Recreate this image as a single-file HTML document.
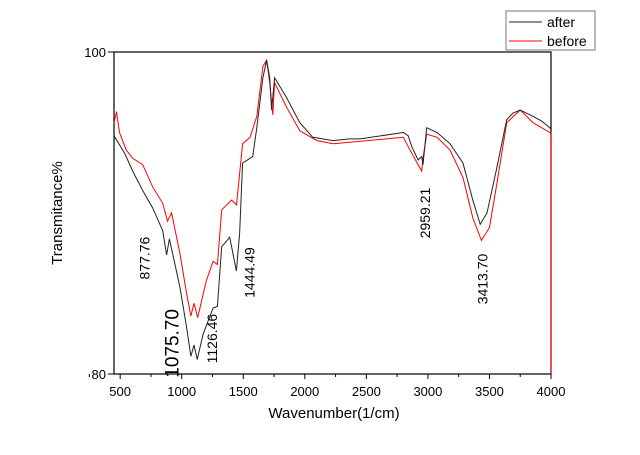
<!DOCTYPE html>
<html><head><meta charset="utf-8"><style>
body{margin:0;background:#fff;}
svg text{font-family:"Liberation Sans",Arial,sans-serif;}
</style></head><body>
<svg id="chart" width="640" height="450" viewBox="0 0 640 450" xmlns="http://www.w3.org/2000/svg">
</svg>
<script>
const afterX=[450,537,602,683,765,846,877,900,985,1040,1075,1100,1126,1175,1255,1290,1325,1390,1444,1470,1495,1577,1610,1660,1690,1715,1730,1755,1850,1960,2065,2230,2365,2450,2800,2840,2870,2920,2950,2960,2990,3075,3180,3285,3365,3425,3480,3560,3640,3690,3750,3855,3925,3990,4000];
const afterY=[94.8,93.7,92.6,91.4,90.3,88.9,87.4,88.4,85.4,82.9,81.1,81.8,80.9,82.5,84.1,84.2,87.9,88.5,86.4,88.7,93.1,93.5,95.3,98.4,99.5,98.4,96.4,98.4,97.2,95.6,94.7,94.5,94.6,94.6,95.0,94.8,94.1,93.3,93.5,93.0,95.3,95.0,94.3,93.1,90.8,89.3,90.0,92.8,95.8,96.2,96.4,96.0,95.7,95.3,95.2];
const beforeX=[450,470,495,550,602,683,765,846,885,918,985,1040,1075,1100,1130,1200,1255,1290,1325,1405,1445,1495,1555,1610,1660,1690,1715,1740,1755,1850,1960,2100,2230,2365,2800,2855,2920,2950,2960,2990,3075,3180,3285,3365,3435,3500,3560,3640,3750,3855,3990,4000];
const beforeY=[95.6,96.3,95.0,93.9,93.4,93.0,91.6,90.6,89.5,90.0,87.5,85.0,83.6,84.4,83.5,85.8,87.0,86.8,90.2,90.8,90.5,94.3,94.7,96.0,99.1,99.5,98.1,96.1,98.1,96.6,95.1,94.5,94.3,94.4,94.7,93.9,93.0,92.6,93.4,94.9,94.7,93.9,92.2,89.7,88.3,89.1,91.8,95.6,96.4,95.6,95.0,94.9];
const xTicks=[500,1000,1500,2000,2500,3000,3500,4000];
const yTicks=[80,100];
const peakLabels=["877.76","1075.70","1126.46","1444.49","2959.21","3413.70"];
const peakX=[877,1075,1126,1444,2959,3413];
const peakYVal=[87.2,81.9,82.2,86.3,90.0,85.9];
const peakDx=[-22,-18,15,13,2,4];

const L=114,R=551,T=52,B=374,xmin=450,xmax=4000,ymin=80,ymax=100;
const sx=v=>L+(v-xmin)/(xmax-xmin)*(R-L);
const sy=v=>B-(v-ymin)/(ymax-ymin)*(B-T);
const NS="http://www.w3.org/2000/svg";
const svg=document.getElementById('chart');
function mk(tag,attrs,parent){const e=document.createElementNS(NS,tag);for(const k in attrs)e.setAttribute(k,attrs[k]);(parent||svg).appendChild(e);return e;}

const frame=mk('rect',{x:L,y:T,width:R-L,height:B-T,fill:'none',stroke:'#000','stroke-width':1.2});



xTicks.forEach(v=>{
  const t=mk('line',{x1:sx(v),x2:sx(v),y1:B,y2:B+5,stroke:'#000'});
  
  
  const m=mk('line',{x1:sx(v-250),x2:sx(v-250),y1:B,y2:B+3,stroke:'#000'});
  
  
  const lb=mk('text',{x:sx(v),y:B+22,'font-size':13,'text-anchor':'middle'});
  lb.textContent=v;
  
  
});
yTicks.forEach(v=>{
  const t=mk('line',{x1:L-6,x2:L,y1:sy(v),y2:sy(v),stroke:'#000'});
  
  
  const lb=mk('text',{x:L-8,y:sy(v)+5,'font-size':13,'text-anchor':'end'});
  lb.textContent=v;
  
  
});

function line(xs,ys,color,name){
  const d=xs.map((x,i)=>(i?'L':'M')+sx(x).toFixed(1)+','+sy(ys[i]).toFixed(1)).join('');
  const p=mk('path',{d:d,fill:'none',stroke:color,'stroke-width':1});
  
  
}
line(beforeX,beforeY,'#f00','series-before');
line(afterX,afterY,'#222','series-after');
const ra=mk('line',{x1:R,x2:R,y1:sy(95),y2:B,stroke:'#f00','stroke-width':1.2});



peakLabels.forEach((s,i)=>{
  const fs=i==1?19:14;
  const x=sx(peakX[i])+peakDx[i];
  const y=sy(peakYVal[i]);
  const t=mk('text',{x:0,y:0,'font-size':fs,'text-anchor':'middle','dominant-baseline':'central',transform:`translate(${x},${y}) rotate(-90)`});
  t.textContent=s;
  
  
});

const xl=mk('text',{x:334,y:418,'font-size':15,'text-anchor':'middle'});
xl.textContent='Wavenumber(1/cm)';


const yl=mk('text',{x:0,y:0,'font-size':15,'text-anchor':'middle',transform:'translate(62,213) rotate(-90)'});
yl.textContent='Transmitance%';



const lg=mk('g',{});


mk('rect',{x:506,y:11,width:89,height:39,fill:'#fff',stroke:'#777'},lg);
const l1=mk('line',{x1:509,x2:542,y1:22,y2:22,stroke:'#222'},lg);


const t1=mk('text',{x:547,y:27,'font-size':14},lg);t1.textContent='after';


const l2=mk('line',{x1:509,x2:542,y1:41,y2:41,stroke:'#f00'},lg);


const t2=mk('text',{x:547,y:46,'font-size':14},lg);t2.textContent='before';


</script>
</body></html>
